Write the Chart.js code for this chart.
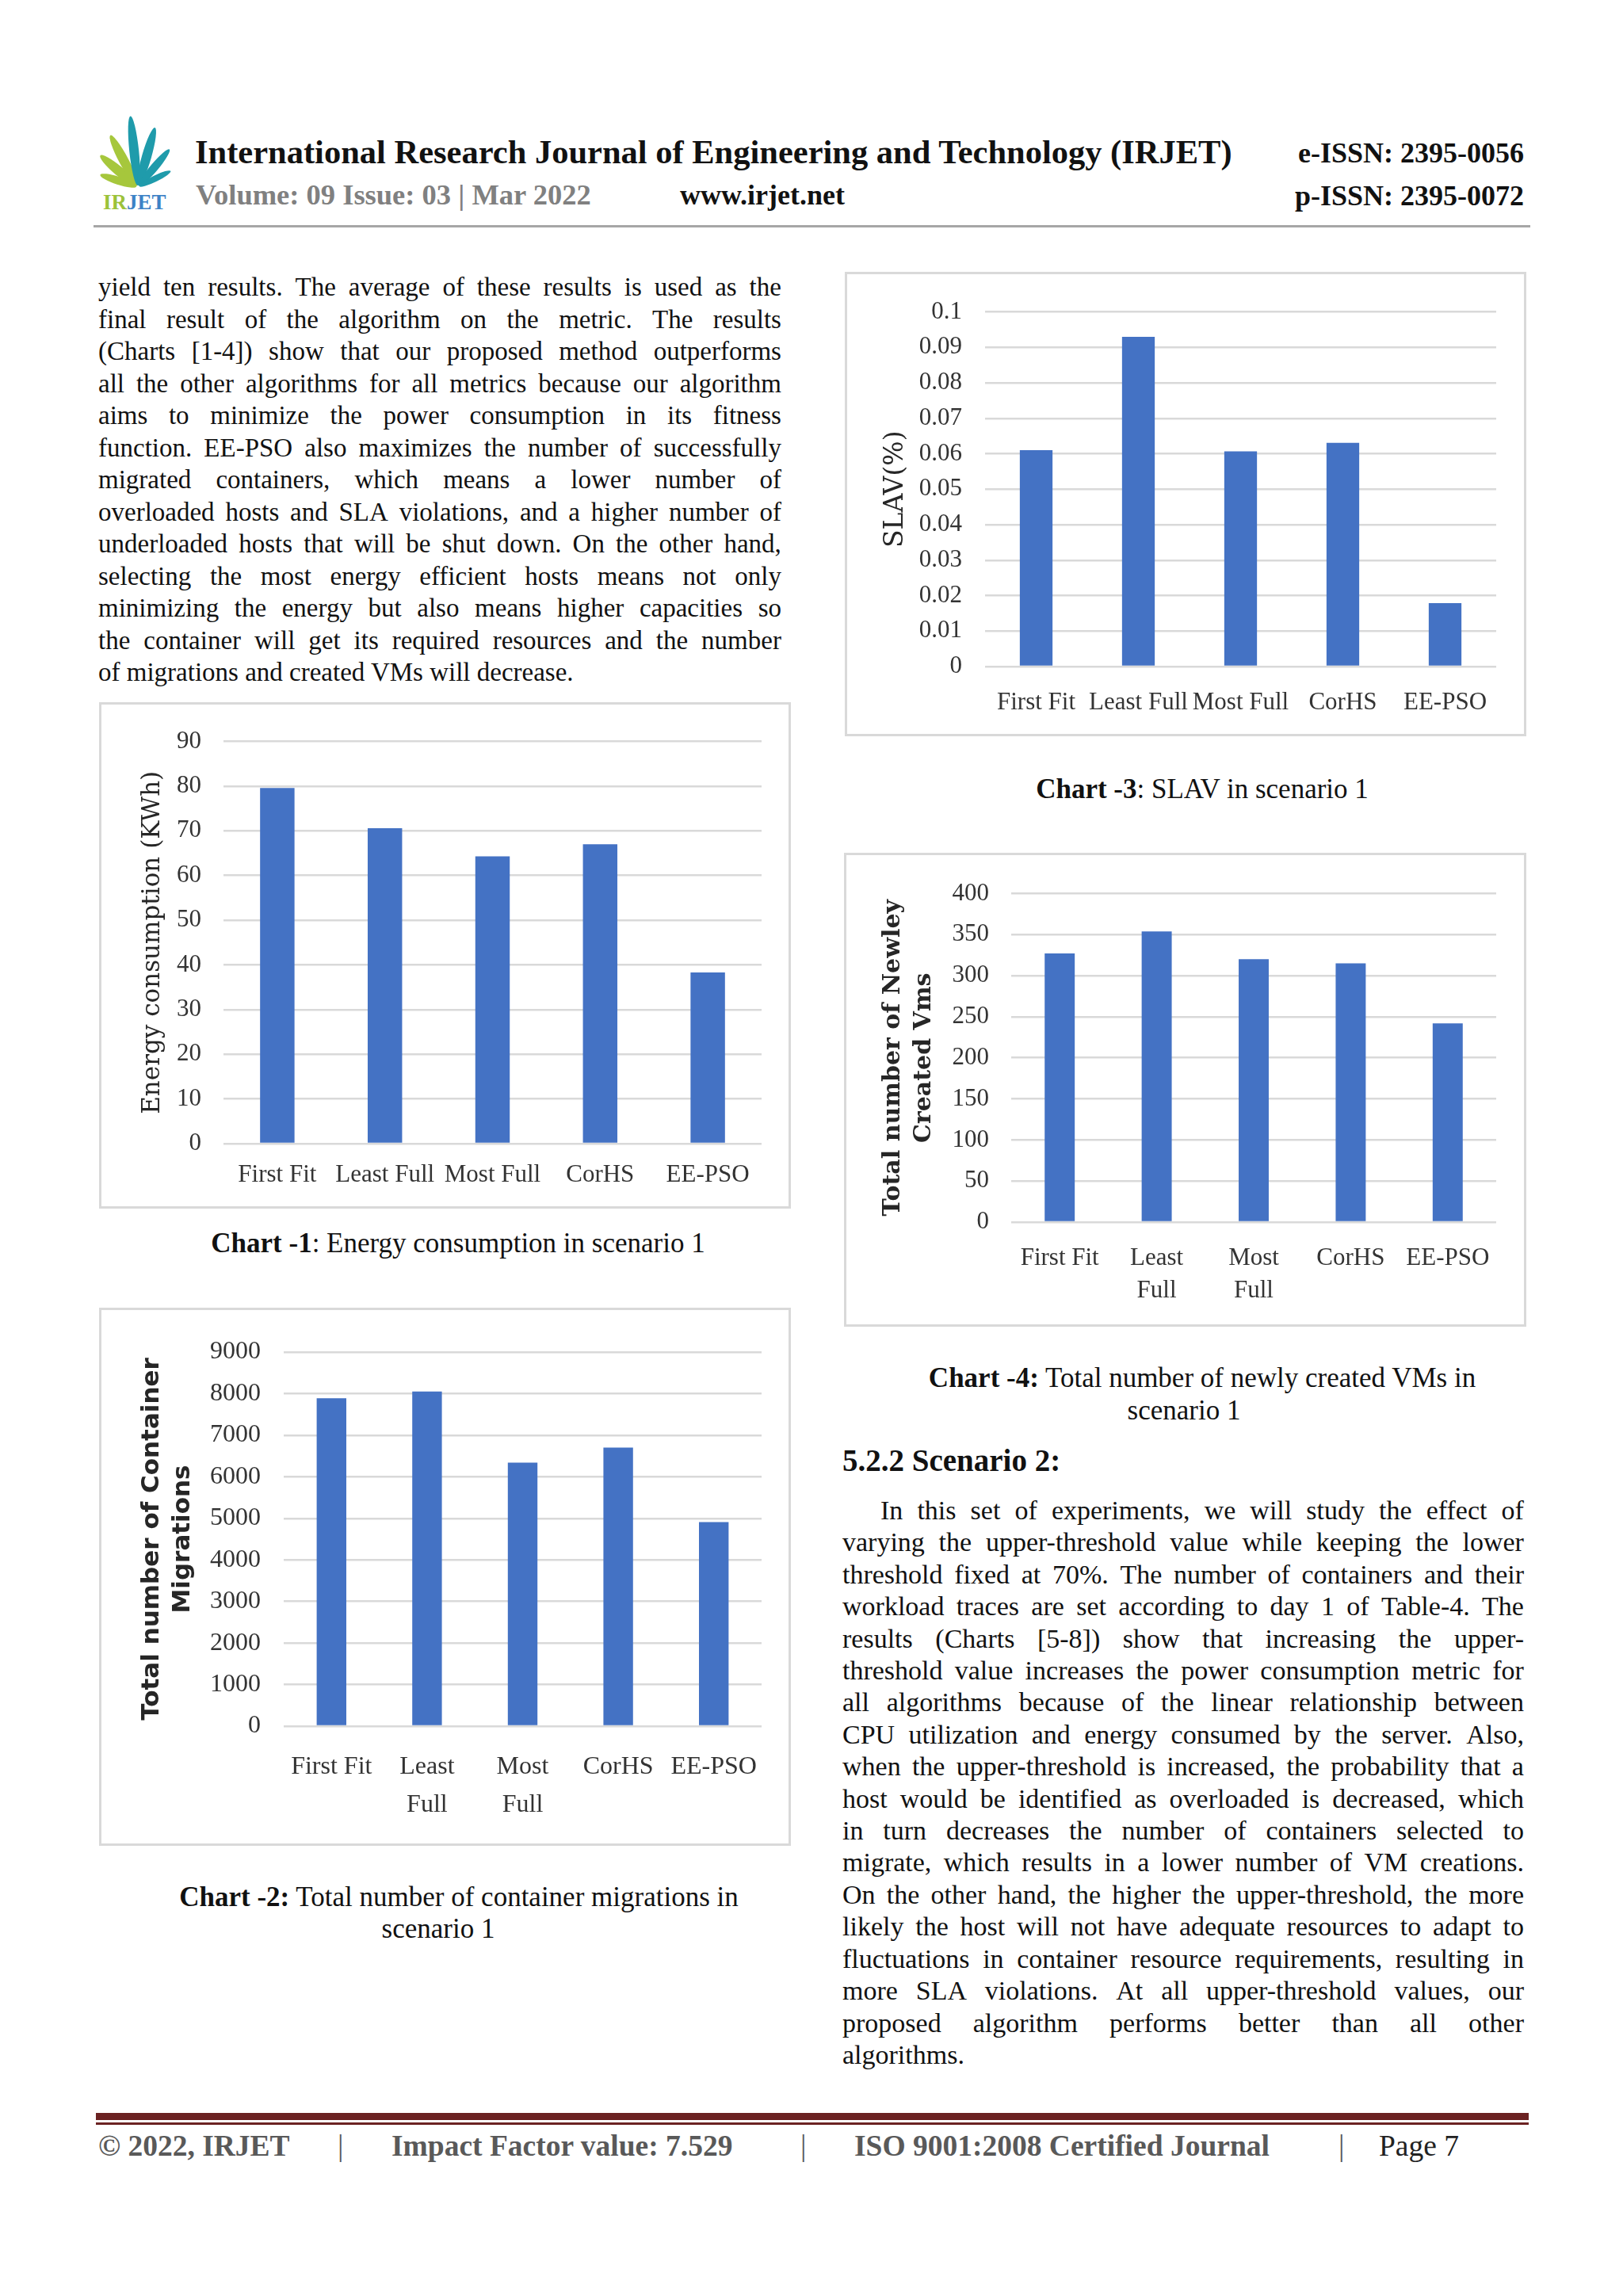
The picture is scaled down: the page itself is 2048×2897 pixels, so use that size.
<!DOCTYPE html>
<html>
<head>
<meta charset="utf-8">
<script src="https://cdn.jsdelivr.net/npm/chart.js@4.4.1/dist/chart.umd.min.js"></script>
<style>
  html, body { margin: 0; padding: 0; }
  body { width: 2048px; height: 2897px; position: relative; overflow: hidden; background: #fff;
         font-family: "Liberation Serif", serif; color: #111; }
  .t { position: absolute; white-space: nowrap; }
  .b { font-weight: bold; }
  .chart-box { position: absolute; box-sizing: border-box; border: 3px solid #d9d9d9; background: #fff; }
  .chart-box canvas { display: block; }
  .para { position: absolute; }
  .para .ln { display: flex; justify-content: space-between; white-space: nowrap; }
  .para .ln.last { justify-content: flex-start; }
  .cap { position: absolute; white-space: nowrap; font-size: 35px; line-height: 40px; transform: translateX(-50%); }
  .foot { position: absolute; white-space: nowrap; top: 2685px; font-size: 37.5px; line-height: 46px; color: #595959; }
</style>
</head>
<body>

<!-- header -->
<svg style="position:absolute;left:112px;top:144px" width="120" height="124" viewBox="0 0 120 124">
  <g transform="translate(62,92)">
    <ellipse rx="5" ry="24" fill="#a6c73c" transform="rotate(-72) translate(0,-26)"/>
    <ellipse rx="6" ry="30" fill="#a6c73c" transform="rotate(-50) translate(0,-32)"/>
    <ellipse rx="6" ry="36" fill="#a6c73c" transform="rotate(-28) translate(0,-38)"/>
    <ellipse rx="6" ry="44" fill="#1f9bab" transform="rotate(-6) translate(0,-46)"/>
    <ellipse rx="6" ry="38" fill="#1f9bab" transform="rotate(16) translate(0,-40)"/>
    <ellipse rx="5" ry="30" fill="#1f9bab" transform="rotate(40) translate(0,-32)"/>
    <ellipse rx="4" ry="22" fill="#1f9bab" transform="rotate(64) translate(0,-24)"/>
  </g>
  <text x="18" y="120" font-family="Liberation Serif" font-size="27" font-weight="bold"><tspan fill="#9cc23a">IR</tspan><tspan fill="#3d82c6">JET</tspan></text>
</svg>
<div class="t b" style="left:246px;top:167px;font-size:42.5px;line-height:50px;color:#111">International Research Journal of Engineering and Technology (IRJET)</div>
<div class="t b" style="right:125px;top:170px;font-size:36px;line-height:46px;color:#111">e-ISSN: 2395-0056</div>
<div class="t b" style="left:247px;top:224px;font-size:36.5px;line-height:44px;color:#808080">Volume: 09 Issue: 03 | Mar 2022</div>
<div class="t b" style="left:858px;top:224px;font-size:36px;line-height:44px;color:#111">www.irjet.net</div>
<div class="t b" style="right:125px;top:225px;font-size:36px;line-height:44px;color:#111">p-ISSN: 2395-0072</div>
<div style="position:absolute;left:118px;top:284px;width:1813px;height:3px;background:#a6a6a6"></div>

<!-- body text -->
<div id="leftText" class="para" style="left:124px;top:342px;width:862px;font-size:33px;line-height:40.5px"></div>
<div class="t b" style="left:1063px;top:1820px;font-size:39px;line-height:46px">5.2.2 Scenario 2:</div>
<div id="rightText" class="para" style="left:1063px;top:1886px;width:860px;font-size:34px;line-height:40.4px"></div>

<!-- captions -->
<div class="cap" style="left:1517px;top:976px"><b>Chart -3</b>: SLAV in scenario 1</div>
<div class="cap" style="left:578px;top:1549px"><b>Chart -1</b>: Energy consumption in scenario 1</div>
<div class="cap" style="left:1517px;top:1719px"><b>Chart -4:</b> Total number of newly created VMs in</div>
<div class="cap" style="left:1494px;top:1760px">scenario 1</div>
<div class="cap" style="left:579px;top:2374px"><b>Chart -2:</b> Total number of container migrations in</div>
<div class="cap" style="left:553px;top:2414px">scenario 1</div>

<!-- footer -->
<div style="position:absolute;left:121px;top:2666px;width:1808px;height:9px;background:#6b2222"></div>
<div style="position:absolute;left:121px;top:2678px;width:1808px;height:3px;background:#6b2222"></div>
<div class="foot b" style="left:124px">© 2022, IRJET</div>
<div class="foot" style="left:426px">|</div>
<div class="foot b" style="left:494px">Impact Factor value: 7.529</div>
<div class="foot" style="left:1010px">|</div>
<div class="foot b" style="left:1078px">ISO 9001:2008 Certified Journal</div>
<div class="foot" style="left:1689px">|</div>
<div class="foot" style="left:1740px;color:#222">Page 7</div>

<script>
// ---- chart data ----
const algorithms = ['First Fit', 'Least Full', 'Most Full', 'CorHS', 'EE-PSO'];
const algorithmsWrapped = ['First Fit', ['Least', 'Full'], ['Most', 'Full'], 'CorHS', 'EE-PSO'];

const energyValues = [79.6, 70.6, 64.3, 67.0, 38.3];
const energyTicks = ['0', '10', '20', '30', '40', '50', '60', '70', '80', '90'];

const migrationValues = [7890, 8050, 6340, 6700, 4910];
const migrationTicks = ['0', '1000', '2000', '3000', '4000', '5000', '6000', '7000', '8000', '9000'];

const slavValues = [0.061, 0.093, 0.0607, 0.0631, 0.0179];
const slavTicks = ['0', '0.01', '0.02', '0.03', '0.04', '0.05', '0.06', '0.07', '0.08', '0.09', '0.1'];

const vmValues = [327, 354, 320, 315, 242];
const vmTicks = ['0', '50', '100', '150', '200', '250', '300', '350', '400'];

// ---- body text ----
const leftLines = [
  'yield ten results. The average of these results is used as the',
  'final result of the algorithm on the metric. The results',
  '(Charts [1-4]) show that our proposed method outperforms',
  'all the other algorithms for all metrics because our algorithm',
  'aims to minimize the power consumption in its fitness',
  'function. EE-PSO also maximizes the number of successfully',
  'migrated containers, which means a lower number of',
  'overloaded hosts and SLA violations, and a higher number of',
  'underloaded hosts that will be shut down. On the other hand,',
  'selecting the most energy efficient hosts means not only',
  'minimizing the energy but also means higher capacities so',
  'the container will get its required resources and the number',
  'of migrations and created VMs will decrease.'
];
const rightLines = [
  'In this set of experiments, we will study the effect of',
  'varying the upper-threshold value while keeping the lower',
  'threshold fixed at 70%. The number of containers and their',
  'workload traces are set according to day 1 of Table-4. The',
  'results (Charts [5-8]) show that increasing the upper-',
  'threshold value increases the power consumption metric for',
  'all algorithms because of the linear relationship between',
  'CPU utilization and energy consumed by the server. Also,',
  'when the upper-threshold is increased, the probability that a',
  'host would be identified as overloaded is decreased, which',
  'in turn decreases the number of containers selected to',
  'migrate, which results in a lower number of VM creations.',
  'On the other hand, the higher the upper-threshold, the more',
  'likely the host will not have adequate resources to adapt to',
  'fluctuations in container resource requirements, resulting in',
  'more SLA violations. At all upper-threshold values, our',
  'proposed algorithm performs better than all other',
  'algorithms.'
];

function fillParagraph(el, lines, indent) {
  lines.forEach((text, i) => {
    const row = document.createElement('div');
    row.className = 'ln' + (i === lines.length - 1 ? ' last' : '');
    if (i === 0 && indent) row.style.marginLeft = indent + 'px';
    if (i === lines.length - 1) {
      row.textContent = text;
    } else {
      text.split(' ').forEach(w => {
        const s = document.createElement('span');
        s.textContent = w;
        row.appendChild(s);
      });
    }
    el.appendChild(row);
  });
}
fillParagraph(document.getElementById('leftText'), leftLines, 0);
fillParagraph(document.getElementById('rightText'), rightLines, 48);

// ---- charts ----
const BAR_COLOR = '#4472c4';
const GRID_COLOR = '#d9d9d9';

function drawBarChart(cfg) {
  const [bx1, by1, bx2, by2] = cfg.box;
  const [pl, pt, pr, pb] = cfg.plot;
  const wrap = document.createElement('div');
  wrap.className = 'chart-box';
  wrap.style.left = bx1 + 'px';
  wrap.style.top = by1 + 'px';
  wrap.style.width = (bx2 - bx1) + 'px';
  wrap.style.height = (by2 - by1) + 'px';
  const W = bx2 - bx1 - 6, H = by2 - by1 - 6;
  const canvas = document.createElement('canvas');
  canvas.width = W;
  canvas.height = H;
  canvas.style.width = W + 'px';
  canvas.style.height = H + 'px';
  wrap.appendChild(canvas);
  document.body.appendChild(wrap);

  const ox = bx1 + 3, oy = by1 + 3;
  const titleLH = cfg.titleFont.size * cfg.titleFont.lineHeight;
  const padLeft = cfg.titleX - ox - titleLH / 2;
  const tickFont = { family: 'Liberation Serif', size: cfg.tickSize, lineHeight: cfg.tickLineHeight };
  const tickLH = cfg.tickSize * cfg.tickLineHeight;
  const tickValues = cfg.ticks.map(Number);

  new Chart(canvas, {
    type: 'bar',
    data: {
      labels: cfg.labels,
      datasets: [{
        data: cfg.values,
        backgroundColor: BAR_COLOR,
        borderWidth: 0,
        barPercentage: cfg.barPct,
        categoryPercentage: 1
      }]
    },
    options: {
      responsive: false,
      animation: false,
      devicePixelRatio: 1,
      layout: { padding: { left: padLeft, top: pt - oy, right: ox + W - pr, bottom: 0 } },
      plugins: { legend: { display: false }, tooltip: { enabled: false } },
      scales: {
        x: {
          grid: { display: false, drawTicks: false },
          border: { display: false },
          ticks: { font: tickFont, color: '#333', padding: cfg.xLabelY - pb - tickLH / 2, maxRotation: 0, autoSkip: false },
          afterFit: s => { s.height = oy + H - pb; }
        },
        y: {
          min: 0,
          max: tickValues[tickValues.length - 1],
          grid: { color: GRID_COLOR, lineWidth: 2.5, drawTicks: false },
          border: { display: false },
          ticks: {
            font: tickFont, color: '#333', padding: pl - cfg.tickRight,
            callback: (v, i) => cfg.ticks[i]
          },
          afterBuildTicks: s => { s.ticks = tickValues.map(value => ({ value })); },
          title: {
            display: true, text: cfg.title, color: '#262626',
            font: cfg.titleFont, padding: { top: 0, bottom: 0 }
          },
          afterFit: s => { s.width = (pl - ox) - padLeft; }
        }
      }
    }
  });
}

drawBarChart({
  box: [1066, 343, 1926, 929], plot: [1243, 385, 1888, 841],
  tickRight: 1214, titleX: 1130, xLabelY: 887,
  labels: algorithms, values: slavValues, ticks: slavTicks, barPct: 0.32,
  tickSize: 31, tickLineHeight: 1.2,
  title: 'SLAV(%)', titleFont: { family: 'DejaVu Serif', size: 33, lineHeight: 1.2 }
});

drawBarChart({
  box: [125, 886, 998, 1525], plot: [282, 927, 961, 1443],
  tickRight: 254, titleX: 193, xLabelY: 1483,
  labels: algorithms, values: energyValues, ticks: energyTicks, barPct: 0.32,
  tickSize: 31, tickLineHeight: 1.2,
  title: 'Energy consumption (KWh)', titleFont: { family: 'DejaVu Serif', size: 31, lineHeight: 1.2 }
});

drawBarChart({
  box: [1065, 1076, 1926, 1674], plot: [1276, 1120, 1888, 1542],
  tickRight: 1248, titleX: 1127, xLabelY: 1588,
  labels: algorithmsWrapped, values: vmValues, ticks: vmTicks, barPct: 0.31,
  tickSize: 31, tickLineHeight: 1.32,
  title: ['Total number of Newley', 'Created Vms'],
  titleFont: { family: 'DejaVu Serif', size: 30, weight: 'bold', lineHeight: 1.3 }
});

drawBarChart({
  box: [125, 1650, 998, 2329], plot: [358, 1700, 961, 2178],
  tickRight: 329, titleX: 192, xLabelY: 2230,
  labels: algorithmsWrapped, values: migrationValues, ticks: migrationTicks, barPct: 0.31,
  tickSize: 32, tickLineHeight: 1.5,
  title: ['Total number of Container', 'Migrations'],
  titleFont: { family: 'DejaVu Sans', size: 31, weight: 'bold', lineHeight: 1.25 }
});
</script>
</body>
</html>
